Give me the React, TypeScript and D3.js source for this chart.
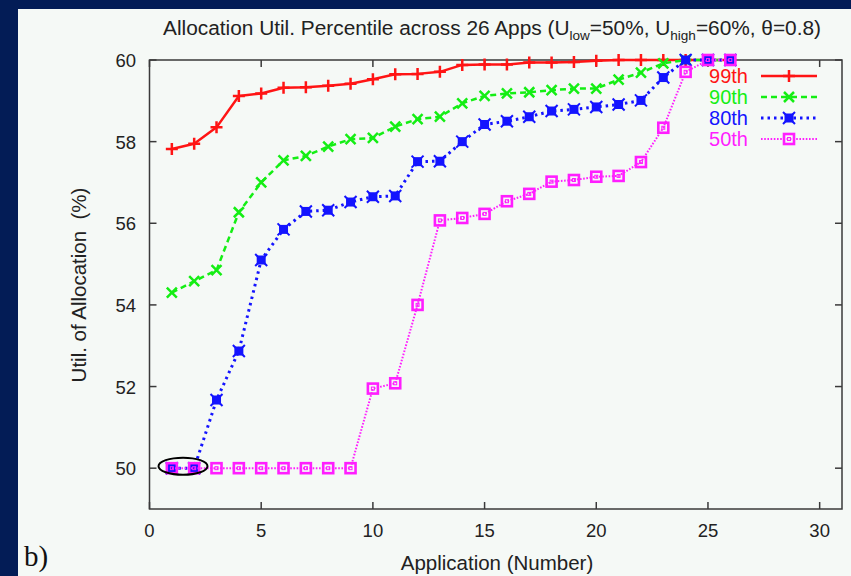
import React from 'react';
import * as d3 from 'd3';

// Application numbers (x) and percentile curves of allocation utilisation (%)
const apps = [1, 2, 3, 4, 5, 6, 7, 8, 9, 10, 11, 12, 13, 14, 15, 16, 17, 18, 19, 20, 21, 22, 23, 24, 25, 26];
const p99 = [57.82, 57.95, 58.35, 59.12, 59.18, 59.32, 59.33, 59.37, 59.42, 59.53, 59.65, 59.66, 59.71, 59.88, 59.89, 59.89, 59.94, 59.94, 59.95, 59.98, 60, 60, 60, 60, 60, 60];
const p90 = [54.3, 54.58, 54.85, 56.27, 57.0, 57.54, 57.65, 57.88, 58.06, 58.09, 58.37, 58.55, 58.61, 58.94, 59.12, 59.18, 59.21, 59.26, 59.3, 59.3, 59.52, 59.69, 59.92, 60, 60, 60];
const p80 = [50, 50, 51.67, 52.87, 55.1, 55.85, 56.29, 56.32, 56.52, 56.65, 56.67, 57.51, 57.52, 58.0, 58.42, 58.5, 58.61, 58.75, 58.79, 58.85, 58.91, 59.01, 59.57, 60, 60, 60];
const p50 = [50, 50, 50, 50, 50, 50, 50, 50, 50, 51.95, 52.08, 54.0, 56.07, 56.13, 56.23, 56.54, 56.72, 57.02, 57.06, 57.14, 57.16, 57.5, 58.34, 59.71, 60, 60];

const seriesNames = ['99th', '90th', '80th', '50th'];
const xTicks = [0, 5, 10, 15, 20, 25, 30];
const yTicks = [50, 52, 54, 56, 58, 60];

const W = 851;
const H = 576;
const PLOT = { left: 149.5, right: 842, top: 60, bottom: 509 };
const FONT = '"Liberation Sans", Arial, Helvetica, sans-serif';

type Style = {
  color: string;
  width: number;
  dash?: string;
  marker: 'plus' | 'cross' | 'star' | 'box';
};

const styles: Style[] = [
  { color: '#ff1414', width: 2.5, marker: 'plus' },
  { color: '#14ee14', width: 2.5, dash: '6 4', marker: 'cross' },
  { color: '#1414ff', width: 3, dash: '2.5 4', marker: 'star' },
  { color: '#ff1eff', width: 2, dash: '1.6 1.6', marker: 'box' },
];

function Marker({ cx, cy, s }: { cx: number; cy: number; s: Style }) {
  const t = `translate(${cx},${cy})`;
  if (s.marker === 'plus') {
    return <path transform={t} d="M-6,0H6M0,-6V6" stroke={s.color} strokeWidth={2.5} fill="none" />;
  }
  if (s.marker === 'cross') {
    return <path transform={t} d="M-5,-5L5,5M-5,5L5,-5" stroke={s.color} strokeWidth={2.5} fill="none" />;
  }
  if (s.marker === 'star') {
    return (
      <g transform={t}>
        <rect x={-4.5} y={-4.5} width={9} height={9} fill={s.color} />
        <path d="M-6,-6L6,6M-6,6L6,-6" stroke={s.color} strokeWidth={2} fill="none" />
      </g>
    );
  }
  return (
    <g transform={t}>
      <rect x={-5} y={-5} width={10} height={10} fill="none" stroke={s.color} strokeWidth={2.6} />
      <rect x={-1.5} y={-1.5} width={3} height={3} fill="none" stroke={s.color} strokeWidth={1} />
    </g>
  );
}

export default function App() {
  const x = d3.scaleLinear().domain([0, 31]).range([PLOT.left, PLOT.right]);
  const y = d3.scaleLinear().domain([49, 60]).range([PLOT.bottom, PLOT.top]);
  const series = [p99, p90, p80, p50];

  const line = d3
    .line<number>()
    .x((_, i) => x(apps[i]))
    .y((d) => y(d));

  const legendX = 748;
  const legendLine = [761, 817];
  const legendRows = [76, 97, 118, 139];

  return (
    <svg
      width={W}
      height={H}
      style={{ position: 'absolute', left: 0, top: 0, display: 'block' }}
      fontFamily={FONT}
    >
      <rect x={0} y={0} width={W} height={H} fill="#031c56" />
      <rect x={18} y={9} width={W - 18} height={H - 9} fill="#f5f9f6" />

      {/* title */}
      <text x={163} y={35} fontSize={20} fill="#222" textLength={658} lengthAdjust="spacingAndGlyphs">
        Allocation Util. Percentile across 26 Apps (U
        <tspan fontSize={13} dy={5}>low</tspan>
        <tspan dy={-5}>=50%, U</tspan>
        <tspan fontSize={13} dy={5}>high</tspan>
        <tspan dy={-5}>=60%, θ=0.8)</tspan>
      </text>

      {/* frame and inward ticks */}
      <rect
        x={PLOT.left}
        y={PLOT.top}
        width={PLOT.right - PLOT.left}
        height={PLOT.bottom - PLOT.top}
        fill="none"
        stroke="#3a3a3a"
        strokeWidth={1.5}
      />
      {xTicks.map((t) => (
        <g key={`xt${t}`}>
          <line x1={x(t)} x2={x(t)} y1={PLOT.bottom} y2={PLOT.bottom - 7} stroke="#3a3a3a" strokeWidth={1.5} />
          <line x1={x(t)} x2={x(t)} y1={PLOT.top} y2={PLOT.top + 7} stroke="#3a3a3a" strokeWidth={1.5} />
          <text x={x(t)} y={537} textAnchor="middle" fontSize={18.5} fill="#222">
            {t}
          </text>
        </g>
      ))}
      {yTicks.map((t) => (
        <g key={`yt${t}`}>
          <line x1={PLOT.left} x2={PLOT.left + 7} y1={y(t)} y2={y(t)} stroke="#3a3a3a" strokeWidth={1.5} />
          <line x1={PLOT.right} x2={PLOT.right - 7} y1={y(t)} y2={y(t)} stroke="#3a3a3a" strokeWidth={1.5} />
          <text x={136} y={y(t) + 7} textAnchor="end" fontSize={18.5} fill="#222">
            {t}
          </text>
        </g>
      ))}

      {/* axis titles */}
      <text x={497} y={570} textAnchor="middle" fontSize={20.5} fill="#222">
        Application (Number)
      </text>
      <text
        transform={`translate(86,285) rotate(-90)`}
        textAnchor="middle"
        fontSize={20.5}
        fill="#222"
        style={{ whiteSpace: 'pre' }}
      >
        {'Util. of Allocation  (%)'}
      </text>
      <text x={24} y={566} fontSize={29} fontFamily='"Liberation Serif", "DejaVu Serif", serif' fill="#111">
        b)
      </text>

      {/* series */}
      {series.map((vals, si) => {
        const s = styles[si];
        return (
          <g key={seriesNames[si]}>
            <path
              d={line(vals) ?? ''}
              fill="none"
              stroke={s.color}
              strokeWidth={s.width}
              strokeDasharray={s.dash}
              strokeLinejoin="round"
            />
            {vals.map((v, i) => (
              <Marker key={i} cx={x(apps[i])} cy={y(v)} s={s} />
            ))}
          </g>
        );
      })}

      {/* highlighted pair of points */}
      <ellipse
        cx={(x(apps[0]) + x(apps[1])) / 2}
        cy={y(p50[0]) - 2}
        rx={24.5}
        ry={8.5}
        fill="none"
        stroke="#000"
        strokeWidth={2}
      />

      {/* legend */}
      {seriesNames.map((name, si) => {
        const s = styles[si];
        const ry = legendRows[si];
        return (
          <g key={`lg${name}`}>
            <text x={legendX} y={ry + 7} textAnchor="end" fontSize={20} fill={s.color}>
              {name}
            </text>
            <line
              x1={legendLine[0]}
              x2={legendLine[1]}
              y1={ry}
              y2={ry}
              stroke={s.color}
              strokeWidth={s.width}
              strokeDasharray={s.dash}
            />
            <Marker cx={(legendLine[0] + legendLine[1]) / 2} cy={ry} s={s} />
          </g>
        );
      })}
    </svg>
  );
}
